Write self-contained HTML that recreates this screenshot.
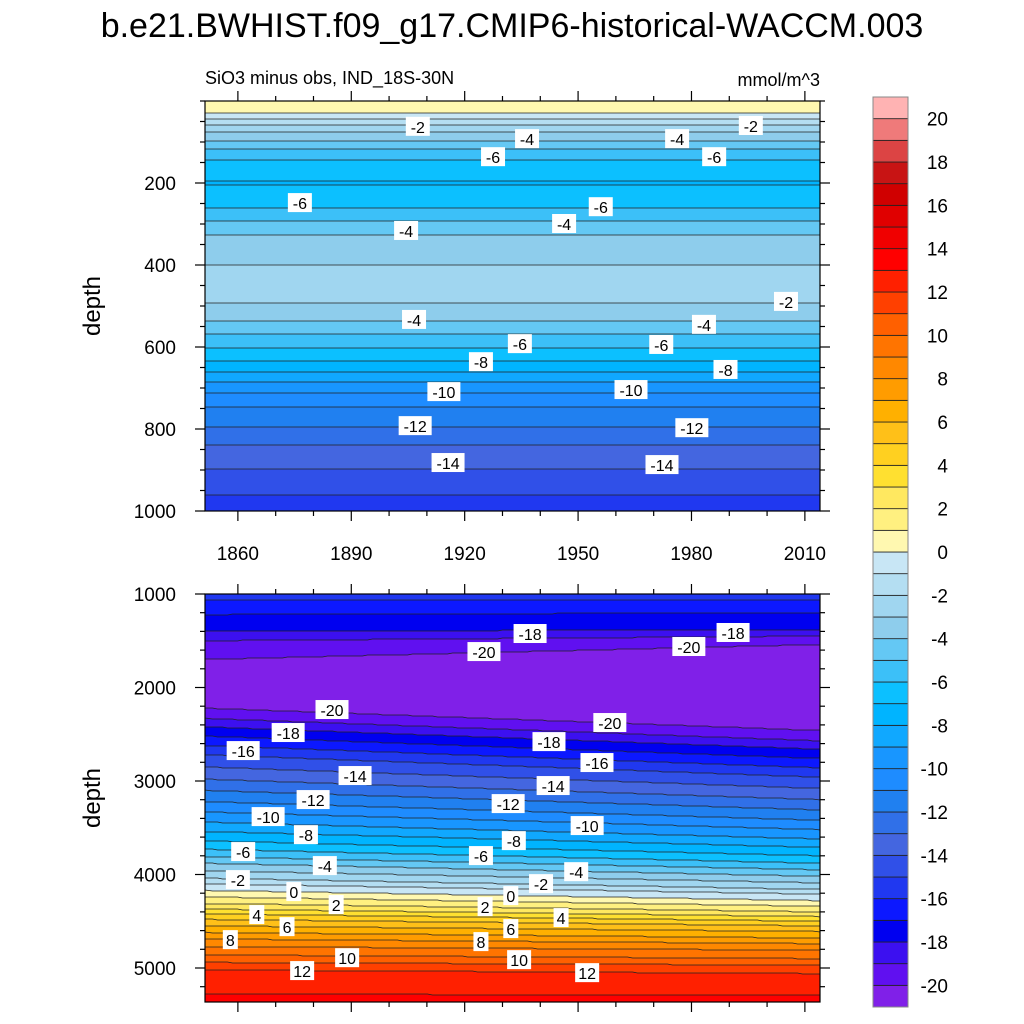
<!DOCTYPE html>
<html><head><meta charset="utf-8">
<style>
body{margin:0;background:#fff;}
svg{display:block;font-family:"Liberation Sans",sans-serif;}
</style></head>
<body>
<svg id="chart" width="1024" height="1024" viewBox="0 0 1024 1024">
<rect width="1024" height="1024" fill="#fff"/>
<text x="512" y="37" font-size="34" text-anchor="middle">b.e21.BWHIST.f09_g17.CMIP6-historical-WACCM.003</text>
<text x="205" y="84" font-size="18">SiO3 minus obs, IND_18S-30N</text>
<text x="820" y="86" font-size="18" text-anchor="end">mmol/m^3</text>
<g id="top"></g>
<g id="bot"></g>
<g id="cbar"></g>
</svg>
<script>
// colour levels: index 0 = <-20, index 41 = >=20
const colors = ["#8020E8","#6010F0","#3C10F0","#0000F0","#0C18FF","#2038F0","#3050E8","#4466E0","#3070E8","#2080F0","#1E8CFF","#1896FF","#10A8FF","#00B4FF","#0CC0FF","#3CC0F8","#64C8F4","#8ECDEC","#A0D6F0","#B4DEF2","#C8E6F5","#FFF8B0","#FFF080","#FFE860","#FFE030","#FFD020","#FFC018","#FFB000","#FF9C00","#FF8800","#FF7400","#FF6000","#FF4000","#FF2000","#FF0000","#F00000","#E00000","#D00000","#C81414","#DC4444","#EF7A7A","#FFB3B3"];
const cbarLabels = [20,18,16,14,12,10,8,6,4,2,0,-2,-4,-6,-8,-10,-12,-14,-16,-18,-20];
const xTickYears = [1860,1890,1920,1950,1980,2010];
const topYTicks = [200,400,600,800,1000];
const botYTicks = [1000,2000,3000,4000,5000];

// upper panel profile (0-1000 m)
const topDepths = [0,25,35,50,70,90,110,130,150,170,200,230,260,290,320,350,380,410,450,490,520,550,580,610,640,670,700,730,760,790,830,870,910,960,1000];
const topValues = [0.5,0.2,-0.3,-1.5,-2.7,-3.6,-4.6,-5.6,-6.2,-6.6,-7.1,-6.6,-6.0,-5.1,-4.1,-3.6,-3.2,-2.9,-2.8,-2.95,-3.6,-4.3,-5.4,-6.2,-7.2,-8.3,-9.6,-10.6,-11.3,-11.9,-12.8,-13.6,-14.2,-15,-15.4];

// lower panel profile (1000-5365 m), depths at 1851 and 2014
const botValues = [-15.8,-16,-17,-18,-19,-20,-20.7,-21.2,-21.2,-21,-20,-19,-18,-17,-16,-15,-14,-13,-12,-11,-10,-9,-8,-7,-6,-5,-4,-3,-2,-1,0,1,2,3,4,5,6,7,8,9,10,11,12,12.7,13.2];
const botDepths1851 = [1000,1060,1220,1400,1500,1700,1850,1950,2100,2150,2220,2330,2420,2520,2620,2720,2850,2980,3100,3220,3330,3440,3540,3640,3730,3810,3880,3960,4040,4100,4170,4240,4310,4370,4420,4480,4550,4620,4690,4770,4860,4940,5020,5150,5365];
const botDepths2014 = [1000,1060,1200,1380,1450,1540,1700,1850,2300,2380,2460,2570,2660,2760,2860,2960,3080,3200,3310,3420,3520,3620,3710,3800,3880,3950,4020,4090,4160,4210,4280,4340,4400,4450,4500,4550,4610,4680,4740,4810,4900,4970,5060,5180,5365];

const topLabelText = ["-2","-4","-6","-4","-6","-2","-6","-6","-4","-4","-2","-4","-6","-4","-6","-8","-8","-10","-10","-12","-12","-14","-14"];
const topLabelYear = [1907.6,1936.5,1927.5,1976.2,1986,1995.7,1876.4,1956,1904.5,1946.3,2005,1906.6,1934.6,1983.3,1972,1924.3,1989,1914.5,1964,1906.9,1980.1,1915.6,1972.2];
const topLabelDepth = [63,93,137,93,137,61,249,259,317,300,490,534,593,546,595,637,656,710,705,793,798,883,888];
const botLabelText = ["-18","-20","-20","-18","-20","-20","-18","-18","-16","-16","-14","-14","-12","-12","-10","-10","-8","-8","-6","-6","-4","-4","-2","-2","0","0","2","2","4","4","6","6","8","8","10","10","12","12"];
const botLabelYear = [1937.3,1925.1,1979.3,1991,1884.9,1958.4,1873.3,1942.3,1861.4,1955,1891,1943.4,1879.9,1931.5,1868,1952.4,1878,1933,1861.4,1924.3,1883,1949.5,1860,1940.2,1874.8,1932.2,1886,1925.4,1865,1945.5,1873,1932.2,1858,1924.3,1888.9,1934.4,1877,1952.4];
const botLabelDepth = [1428,1621,1567,1417,2241,2380,2487,2584,2680,2808,2947,3054,3204,3247,3386,3482,3579,3643,3760,3803,3910,3975,4060,4103,4188,4231,4327,4349,4434,4466,4563,4584,4702,4723,4895,4916,5033,5055];

const NS="http://www.w3.org/2000/svg";
function mk(tag,attrs,parent){const e=document.createElementNS(NS,tag);for(const k in attrs)e.setAttribute(k,attrs[k]);parent.appendChild(e);return e;}
const X0=205,X1=820,Y0=1851.3,Y1=2014.0;
const xScale=yr=>X0+(yr-Y0)/(Y1-Y0)*(X1-X0);
const xInv=px=>Y0+(px-X0)/(X1-X0)*(Y1-Y0);
const topY=d=>101+d*0.41, topInv=py=>(py-101)/0.41;
const botY=d=>594+(d-1000)*0.0935, botInv=py=>1000+(py-594)/0.0935;
function interp(ds,vs,d){if(d<=ds[0])return vs[0];for(let i=1;i<ds.length;i++){if(d<=ds[i]){const t=(d-ds[i-1])/(ds[i]-ds[i-1]);return vs[i-1]+t*(vs[i]-vs[i-1]);}}return vs[vs.length-1];}
function lvl(v){let i=Math.floor(v)+21;return Math.max(0,Math.min(41,i));}

function drawPanel(g,yTop,yBot,valueAt,yScale,invY,ticks,minorStep,dmin,dmax,labelsT,labelsYr,labelsD,showXLabels){
  const fill=mk('g',{},g);
  
  
  const colW=5; const cols=[];
  for(let x=X0;x<X1;x+=colW){
    const yr=xInv(x+colW/2); const lv=[];
    for(let py=yTop;py<yBot;py++){lv.push(lvl(valueAt(yr,invY(py+0.5))));}
    cols.push({x,lv});
    let start=0;
    for(let i=1;i<=lv.length;i++){
      if(i===lv.length||lv[i]!==lv[start]){
        const r=mk('rect',{x:x,y:yTop+start,width:Math.min(colW,X1-x)+0.5,height:i-start+0.5,fill:colors[lv[start]]},fill);
        
        
        start=i;
      }
    }
  }
  const lines={};
  cols.forEach((c,ci)=>{
    const cnt={};
    for(let i=1;i<c.lv.length;i++){if(c.lv[i]!==c.lv[i-1]){const a=Math.min(c.lv[i],c.lv[i-1]),b=Math.max(c.lv[i],c.lv[i-1]);for(let L=a+1;L<=b;L++){cnt[L]=(cnt[L]||0)+1;const key=L+'_'+cnt[L];(lines[key]=lines[key]||[]).push([c.x+colW/2,yTop+i]);}}}
  });
  const lg=mk('g',{fill:'none',stroke:'#222','stroke-width':0.8},g);
  
  
  for(const k in lines){const pts=lines[k];if(pts.length<2)continue;
    pts[0][0]=X0;pts[pts.length-1][0]=X1;
    const p=mk('polyline',{points:pts.map(q=>q.join(',')).join(' ')},lg);
    
    }
  for(let i=0;i<labelsT.length;i++){
    const x=xScale(labelsYr[i]),y=yScale(labelsD[i]);
    const w=labelsT[i].length*9+6;
    const lb=mk('g',{},g);
    
    
    mk('rect',{x:x-w/2,y:y-10,width:w,height:19,fill:'#fff'},lb);
    const t=mk('text',{x:x,y:y+6,'font-size':16,'text-anchor':'middle'},lb);t.textContent=labelsT[i];
  }
  const fr=mk('rect',{x:X0,y:yTop,width:X1-X0,height:yBot-yTop,fill:'none',stroke:'#000','stroke-width':1.2},g);
  
  
  const ax=mk('g',{stroke:'#000','stroke-width':1.2},g);
  
  
  for(let yr=1860;yr<=2010;yr+=10){const x=xScale(yr);const L=(yr%30===0)?10:5;
    mk('line',{x1:x,x2:x,y1:yTop,y2:yTop-L},ax);mk('line',{x1:x,x2:x,y1:yBot,y2:yBot+L},ax);}
  for(let d=dmin;d<=dmax;d+=minorStep){const y=yScale(d);if(y<yTop-0.5||y>yBot+0.5)continue;const major=ticks.includes(d);const L=major?10:5;
    mk('line',{x1:X0,x2:X0-L,y1:y,y2:y},ax);mk('line',{x1:X1,x2:X1+L,y1:y,y2:y},ax);}
  ticks.forEach(d=>{const t=mk('text',{x:176,y:yScale(d)+7,'font-size':19,'text-anchor':'end'},g);t.textContent=d;
    });
  if(showXLabels){xTickYears.forEach(yr=>{const t=mk('text',{x:xScale(yr),y:560,'font-size':19,'text-anchor':'middle'},g);t.textContent=yr;
    });}
  const yt=mk('text',{x:100,y:(yTop+yBot)/2,'font-size':24,'text-anchor':'middle',transform:`rotate(-90 100 ${(yTop+yBot)/2})`},g);
  yt.textContent='depth';
}
drawPanel(document.getElementById('top'),101,511,(yr,d)=>interp(topDepths,topValues,d),topY,topInv,topYTicks,50,0,1000,topLabelText,topLabelYear,topLabelDepth,true);
drawPanel(document.getElementById('bot'),594,1002,(yr,d)=>{const t=(yr-1851.3)/(2014-1851.3);const ds=botDepths1851.map((v,i)=>v+t*(botDepths2014[i]-v));return interp(ds,botValues,d);},botY,botInv,botYTicks,200,1000,5400,botLabelText,botLabelYear,botLabelDepth,false);

const cb=document.getElementById('cbar');
const bh=(1007-97)/42;
for(let i=0;i<42;i++){const y=1007-(i+1)*bh;
  const r=mk('rect',{x:873,y:y,width:35,height:bh,fill:colors[i],stroke:'#222','stroke-width':0.8},cb);
  }
mk('rect',{x:873,y:97,width:35,height:910,fill:'none',stroke:'#888','stroke-width':1},cb);
cbarLabels.forEach(v=>{const y=1007-(v+21)*bh;const t=mk('text',{x:948,y:y+7,'font-size':19,'text-anchor':'end'},cb);t.textContent=v;
  });
</script>
</body></html>
